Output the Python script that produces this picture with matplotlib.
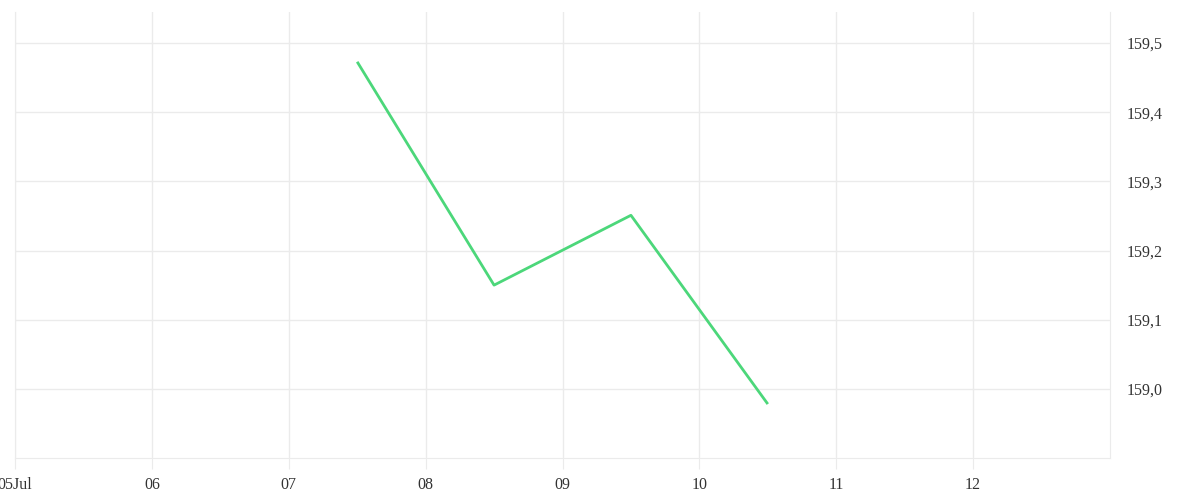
import datetime as dt
import matplotlib
matplotlib.use("Agg")
from matplotlib import pyplot as plt
import matplotlib.dates as mdates
from matplotlib.ticker import FuncFormatter

# price points, plotted at mid-day
dates = [dt.datetime(2024, 7, 7, 12), dt.datetime(2024, 7, 8, 12),
         dt.datetime(2024, 7, 9, 12), dt.datetime(2024, 7, 10, 12)]
prices = [159.473, 159.150, 159.251, 158.978]

tick_days = [dt.datetime(2024, 7, d) for d in range(5, 13)]
y_ticks = [159.0, 159.1, 159.2, 159.3, 159.4, 159.5]

plt.rcParams['font.family'] = ['Liberation Serif', 'DejaVu Serif']
grid_col = '#ebebeb'

fig = plt.figure(figsize=(12, 5), dpi=100)
ax = fig.add_axes([0.0125, 0.084, 0.9125, 0.892])

ax.plot(dates, prices, color='#4cd77a', linewidth=2.0, solid_capstyle='butt')

ax.set_xlim(dt.datetime(2024, 7, 5), dt.datetime(2024, 7, 13))
ax.set_ylim(158.9, 159.545)

ax.set_xticks(tick_days)


def day_fmt(x, pos):
    d = mdates.num2date(x)
    if pos == 0:
        return d.strftime('%d%b')
    return d.strftime('%d')


ax.xaxis.set_major_formatter(FuncFormatter(day_fmt))
ax.set_yticks(y_ticks)
ax.yaxis.set_major_formatter(FuncFormatter(lambda v, p: ('%.1f' % v).replace('.', ',')))
ax.yaxis.tick_right()

ax.grid(True, color=grid_col, linewidth=1)
ax.tick_params(axis='x', length=8, color=grid_col, labelsize=11.5, labelcolor='#333333', pad=6)
ax.tick_params(axis='y', length=0, labelsize=11.5, labelcolor='#333333', pad=12)
for lbl in ax.get_yticklabels():
    lbl.set_va('center_baseline')

ax.spines['top'].set_visible(False)
ax.spines['left'].set_color(grid_col)
ax.spines['right'].set_color(grid_col)
ax.spines['bottom'].set_color(grid_col)

fig.savefig('out.png', dpi=100)
